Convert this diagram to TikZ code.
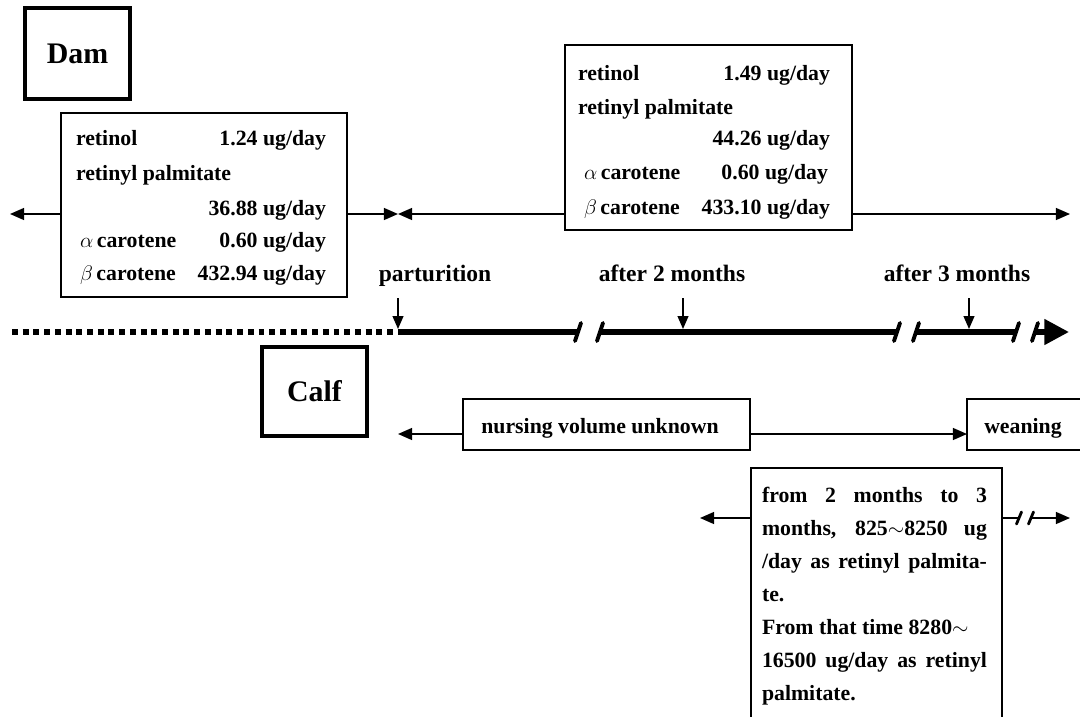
\documentclass[tikz,border=0pt]{standalone}
\usepackage{fontspec}
\setmainfont{Liberation Serif}
\usetikzlibrary{arrows.meta}
\begin{document}
\begin{tikzpicture}[x=0.02cm,y=-0.02cm,
  every node/.style={inner sep=0pt, outer sep=0pt},
  boxtxt/.style={font=\fontsize{12.4}{14}\selectfont\bfseries},
  lbltxt/.style={font=\fontsize{13.4}{15}\selectfont\bfseries},
  heavybox/.style={draw, line width=2.8pt, font=\fontsize{17}{20}\selectfont\bfseries},
  thinbox/.style={draw, line width=0.85pt},
  conn/.style={line width=0.85pt, -{Triangle[length=8pt,width=6.8pt]}},
  downarr/.style={line width=0.85pt, -{Triangle[length=7.4pt,width=6.2pt]}},
  tline/.style={line width=3.2pt},
  dotline/.style={line width=3.4pt, dash pattern=on 3.4pt off 2.7pt},
  slash/.style={line width=2.2pt, line cap=round},
  smallslash/.style={line width=1.6pt, line cap=round},
  bigtip/.style={line width=3.2pt, -{Triangle[length=14pt,width=14pt]}},
]
\useasboundingbox (0,0) rectangle (1080,717);
\clip (0,0) rectangle (1080,717);

% ---------- Dam ----------
\node[heavybox, minimum width=2.1cm, minimum height=1.82cm] (dam) at (77.5,53.5) {Dam};

\node[thinbox, minimum width=5.72cm, minimum height=3.68cm] (lbox) at (204,205) {};
\node[boxtxt,anchor=base west] (l1a) at (76,145) {retinol};
\node[boxtxt,anchor=base east] (l1b) at (326,145) {1.24 ug/day};
\node[boxtxt,anchor=base west] (l2) at (76,180) {retinyl palmitate};
\node[boxtxt,anchor=base east] (l3) at (326,215) {36.88 ug/day};
\node[boxtxt,anchor=base west] (l4a) at (80,247) {$\alpha$\,carotene};
\node[boxtxt,anchor=base east] (l4b) at (326,247) {0.60 ug/day};
\node[boxtxt,anchor=base west] (l5a) at (80,280) {$\beta$\,carotene};
\node[boxtxt,anchor=base east] (l5b) at (326,280) {432.94 ug/day};

\node[thinbox, minimum width=5.74cm, minimum height=3.7cm] (rbox) at (708.5,137.5) {};
\node[boxtxt,anchor=base west] (r1a) at (578,80) {retinol};
\node[boxtxt,anchor=base east] (r1b) at (830,80) {1.49 ug/day};
\node[boxtxt,anchor=base west] (r2) at (578,114) {retinyl palmitate};
\node[boxtxt,anchor=base east] (r3) at (830,145) {44.26 ug/day};
\node[boxtxt,anchor=base west] (r4a) at (584,179) {$\alpha$\,carotene};
\node[boxtxt,anchor=base east] (r4b) at (828,179) {0.60 ug/day};
\node[boxtxt,anchor=base west] (r5a) at (584,214) {$\beta$\,carotene};
\node[boxtxt,anchor=base east] (r5b) at (830,214) {433.10 ug/day};

\coordinate (damL) at (10,214);
\coordinate (damM) at (398,214);
\coordinate (damR) at (1070,214);
\draw[conn] (lbox.west |- damL) -- (damL);
\draw[conn] (lbox.east |- damM) -- (damM);
\draw[conn] (rbox.west |- damM) -- (damM);
\draw[conn] (rbox.east |- damR) -- (damR);

% ---------- time line ----------
\node[lbltxt, anchor=base] (lpart) at (435,281) {parturition};
\node[lbltxt, anchor=base] (l2m) at (672,281) {after 2 months};
\node[lbltxt, anchor=base] (l3m) at (957,281) {after 3 months};

\coordinate (t0) at (12,332);
\coordinate (tp) at (398,332);
\coordinate (b1) at (578,332);
\coordinate (b2) at (600,332);
\coordinate (b3) at (897,332);
\coordinate (b4) at (916,332);
\coordinate (b5) at (1016,332);
\coordinate (b6) at (1035,332);
\coordinate (tend) at (1069,332);
\draw[dotline] (t0) -- (tp);
\draw[tline] (tp) -- (b1);
\draw[tline] (b2) -- (b3);
\draw[tline] (b4) -- (b5);
\draw[bigtip] (b6) -- (tend);
\foreach \b in {b1,b2,b3,b4,b5,b6} \draw[slash] (\b) ++(-3,9) -- ++(6,-18);

\coordinate (pa1) at (398,298);
\coordinate (pa2) at (398,329);
\coordinate (ma1) at (683,298);
\coordinate (ma2) at (683,329);
\coordinate (na1) at (969,298);
\coordinate (na2) at (969,329);
\draw[downarr] (pa1) -- (pa2);
\draw[downarr] (ma1) -- (ma2);
\draw[downarr] (na1) -- (na2);

% ---------- Calf ----------
\node[heavybox, minimum width=2.1cm, minimum height=1.78cm] (calf) at (314.5,391.5) {Calf};

\node[thinbox, minimum width=5.74cm, minimum height=1.02cm] (nurs) at (606.5,424.5) {};
\node[boxtxt, anchor=base] (nurst) at (600,433) {nursing volume unknown};
\node[thinbox, minimum width=3cm, minimum height=1.02cm, anchor=west] (wean) at (967,424.5) {};
\node[boxtxt, anchor=base] (weant) at (1023,433) {weaning};

\coordinate (nL) at (398,434);
\draw[conn] (nurs.west |- nL) -- (nL);
\draw[conn] (nurs.east |- nL) -- (wean.west |- nL);

\node[thinbox, minimum width=5.02cm, minimum height=5.8cm, anchor=north west] (cbox) at (751,468) {};
\node[boxtxt, anchor=base west] (c1) at (762,502) {\makebox[4.5cm][s]{from 2 months to 3}};
\node[boxtxt, anchor=base west] (c2) at (762,535) {\makebox[4.5cm][s]{months, 825$\sim$8250 ug}};
\node[boxtxt, anchor=base west] (c3) at (762,568) {\makebox[4.5cm][s]{/day as retinyl palmita-}};
\node[boxtxt, anchor=base west] (c4) at (762,601) {te.};
\node[boxtxt, anchor=base west] (c5) at (762,634) {From that time 8280$\sim$};
\node[boxtxt, anchor=base west] (c6) at (762,667) {\makebox[4.5cm][s]{16500 ug/day as retinyl}};
\node[boxtxt, anchor=base west] (c7) at (762,700) {palmitate.};

\coordinate (cL) at (700,518);
\coordinate (cR) at (1070,518);
\coordinate (s1) at (1019,518);
\coordinate (s2) at (1031,518);
\draw[conn] (cbox.west |- cL) -- (cL);
\draw[line width=0.85pt] (cbox.east |- cL) -- (s1);
\draw[conn] (s2) -- (cR);
\draw[smallslash] (s1) ++(-2.5,6) -- ++(5,-12);
\draw[smallslash] (s2) ++(-2.5,6) -- ++(5,-12);
\end{tikzpicture}
\end{document}
